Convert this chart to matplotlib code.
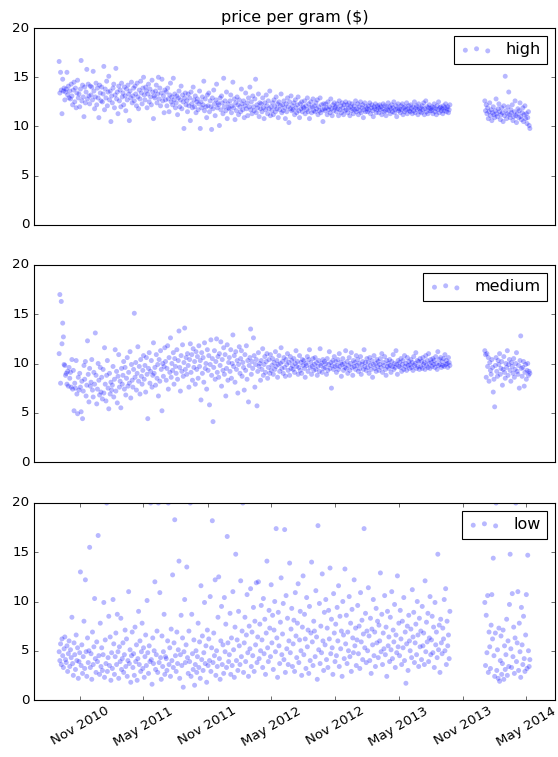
import numpy as np
import pandas as pd
import matplotlib
matplotlib.use('Agg')
import matplotlib.pyplot as plt
import matplotlib.dates as mdates

plt.style.use('classic')


def vals(s):
    return np.array(s.split(), dtype=float)


# price per gram, sampled every ~2 days, Sep 2010 - Sep 2013 (one row per month)
high_a = vals("""
16.6 13.4 15.5 13.7 11.3 14.8 13.6 13.9 12.7 13.5 13.8 15.5 13.2 14.1 12.9
13.6 12.8 14.3 13.1 12.2 13.7 14.5 12.5 13.9 11.9 13.4 14.7 12.9 13.3 12.0
13.8 16.7 12.6 14.2 13.0 11.0 14.0 12.4 13.5 15.8 12.8 14.3 13.1 12.3 14.1
13.2 14.0 12.7 15.6 13.6 11.8 13.0 14.4 12.2 13.9 12.9 10.9 14.2 13.4 12.6
14.0 12.5 13.3 16.1 11.7 13.8 12.9 14.6 12.1 13.5 15.1 12.7 13.6 10.5 13.1
12.4 13.9 14.3 11.9 13.2 15.9 12.8 13.5 11.3 14.1 12.6 13.7 12.0 14.4 13.0
13.4 12.2 14.0 13.1 11.6 13.8 12.7 14.2 13.3 10.6 13.6 12.9 14.5 12.4 13.1
13.9 12.6 14.1 13.3 12.1 14.4 13.0 11.8 13.7 12.8 14.6 13.4 12.3 13.9 15.0
13.2 12.7 14.0 13.6 11.9 13.3 14.3 12.5 13.8 13.0 12.2 14.7 13.5 10.8 13.1
12.9 13.6 14.2 12.4 13.3 15.0 12.8 13.9 12.1 13.4 14.8 12.6 13.1 11.4 13.7
12.7 13.5 12.1 13.9 12.8 11.5 13.2 14.4 12.5 13.0 12.2 14.9 12.7 13.3 11.9
12.4 13.1 11.2 12.9 13.6 12.0 12.7 14.1 11.8 13.2 12.5 9.8 12.9 13.4 12.2
12.6 11.5 13.3 12.1 12.9 10.6 13.5 12.3 11.9 14.0 12.7 12.0 13.1 11.4 12.5
12.8 11.7 12.3 13.6 9.8 12.5 11.9 13.0 12.2 14.6 11.6 12.8 12.0 10.9 13.2
12.1 13.4 11.5 12.6 12.0 9.7 12.9 11.8 13.7 12.3 11.1 12.7 14.3 11.9 12.4
12.2 10.1 12.9 11.7 13.1 12.4 11.3 14.9 12.0 12.6 11.6 13.5 10.8 12.3 11.9
11.8 12.6 13.2 11.4 12.1 14.5 11.9 12.8 10.7 12.4 11.6 13.0 12.2 11.2 12.7
12.0 11.5 13.8 12.3 11.7 12.6 10.9 12.1 13.4 11.8 12.4 11.1 12.9 12.0 14.0
11.7 12.5 11.3 13.1 12.0 11.6 12.8 14.8 11.4 12.2 11.9 13.3 11.0 12.4 11.8
12.3 11.5 12.9 11.9 10.8 12.4 11.7 13.2 12.1 11.3 12.6 11.8 13.6 11.1 12.0
11.6 12.4 11.2 12.7 12.0 11.5 13.0 11.8 12.3 10.9 12.5 11.7 12.1 13.3 11.4
12.2 11.6 12.6 11.9 10.8 12.3 11.5 12.9 12.0 10.4 12.5 11.8 13.1 11.6 12.1
11.7 12.4 11.2 12.7 11.9 11.4 12.2 13.0 11.6 10.9 12.3 11.8 12.5 11.5 12.0
11.9 12.6 11.3 12.1 11.7 12.9 11.5 12.3 10.8 11.9 12.5 11.4 12.0 12.8 11.6
12.1 11.5 12.4 11.8 12.7 11.2 12.0 11.6 12.9 11.4 12.2 11.7 10.5 12.3 11.8
11.6 12.3 11.9 11.2 12.5 11.7 12.0 11.4 12.8 11.8 11.1 12.2 11.6 12.4 11.9
12.0 11.5 12.3 11.8 11.1 12.6 11.7 12.1 11.4 12.4 11.9 11.2 12.2 11.6 12.5
11.7 12.2 11.4 11.9 12.4 11.1 12.0 11.6 12.3 11.8 11.3 12.1 11.7 12.6 11.5
11.8 12.3 11.2 12.0 11.6 12.5 11.4 11.9 12.2 10.9 11.7 12.4 11.5 12.0 11.8
11.5 12.1 11.7 12.4 11.3 11.9 12.2 11.6 11.0 12.0 11.8 12.3 11.4 11.7 12.1
11.9 11.4 12.2 11.7 12.0 11.2 11.8 12.3 11.5 12.1 11.6 11.1 12.0 11.7 12.4
11.6 12.0 11.3 11.8 12.2 11.5 11.9 12.5 11.4 11.7 12.1 11.0 11.8 12.3 11.6
11.8 11.4 12.1 11.7 12.3 11.2 11.9 11.5 12.0 11.7 12.4 11.3 11.8 12.1 11.6
11.5 12.2 11.8 11.3 12.0 11.6 12.5 11.4 11.9 12.1 11.7 11.2 12.3 11.8 11.5
11.9 11.4 12.1 11.7 12.4 11.2 11.8 12.6 11.5 12.0 11.3 11.9 12.2 11.6 11.8
11.6 12.0 11.3 11.9 12.3 11.5 11.8 11.2 12.1 11.7 12.5 11.4 11.9 12.0 11.6
11.8 11.3 12.1 11.6 11.9 12.3 11.5 11.8 12.0 11.4 11.7 12.2
""")
# Jan 2014 - May 2014
high_b = vals("""
12.6 11.6 12.2 11.3 11.9 10.8 11.5 12.4 11.1 11.7 10.6 11.4 12.0 11.2 10.9
11.6 12.8 11.3 11.0 11.8 12.3 11.5 10.7 11.2 11.9 11.4 10.5 12.1 11.1 15.1
11.6 10.8 11.3 12.0 13.5 11.2 10.9 11.7 11.4 12.2 10.6 11.0 11.5 12.6 11.1
10.4 11.3 11.8 10.9 11.6 12.4 11.0 10.7 11.4 11.9 10.5 11.2 12.1 10.8 11.3
10.3 10.9 11.5 10.1 9.8
""")

medium_a = vals("""
11.0 17.0 8.0 16.3 12.0 14.1 12.7 9.9 9.8 8.8 9.0 7.9 9.2 7.7 9.6
8.5 9.1 7.6 10.4 7.4 9.3 5.2 8.0 7.5 10.3 6.9 4.9 8.6 7.3 9.0
7.6 5.1 8.2 4.4 7.2 9.8 8.4 10.2 6.7 7.8 12.3 8.9 6.1 9.5 7.7
8.1 10.4 7.3 6.6 9.1 7.9 13.1 8.8 5.9 7.4 10.0 8.3 6.8 9.6 7.1
8.6 6.4 9.4 7.0 11.6 7.9 6.2 8.8 10.3 7.5 5.4 9.0 6.9 8.1 7.3
7.8 9.7 6.6 8.4 11.4 7.2 9.2 6.0 8.7 10.9 7.6 8.2 5.5 9.5 7.9
8.8 10.2 7.4 9.6 6.8 8.5 10.6 7.7 9.1 8.0 11.2 6.5 9.9 8.3 7.6
9.4 15.1 8.6 10.1 7.3 9.0 11.7 8.2 9.7 6.9 10.4 8.7 7.9 9.3 10.8
8.4 9.8 7.1 10.6 8.9 4.4 9.5 11.1 8.0 9.2 10.3 7.6 8.8 12.1 9.0
9.6 7.8 10.9 8.5 9.9 6.7 10.4 8.2 11.3 9.4 5.2 10.0 8.7 9.7 11.6
10.2 8.3 9.5 11.8 7.4 10.6 9.1 12.6 8.6 10.0 9.3 11.1 7.9 10.5 9.7
9.0 11.4 8.4 10.3 13.3 9.6 7.2 10.8 9.2 11.9 8.7 10.1 13.6 9.4 10.6
8.9 11.0 9.8 7.6 10.4 12.0 9.1 10.9 8.3 11.5 9.6 10.2 7.9 11.2 9.4
10.7 8.5 11.8 9.7 10.3 6.3 11.1 9.0 10.6 8.1 12.1 9.5 10.0 7.4 11.4
9.3 10.8 5.8 9.9 12.4 8.8 10.5 4.1 9.6 11.3 8.4 10.2 12.5 9.1 10.7
8.6 11.0 9.8 12.2 7.7 10.4 9.3 11.6 8.9 10.9 6.7 9.5 11.9 8.3 10.1
10.6 9.2 11.4 8.5 10.0 12.9 9.7 10.8 8.1 11.2 9.4 10.3 7.0 9.9 11.7
9.0 10.5 11.3 8.7 10.1 9.6 7.3 10.9 9.3 11.8 8.4 10.3 6.1 9.8 10.6
13.5 8.9 10.2 9.5 12.6 10.8 7.6 9.9 10.4 5.7 9.2 11.1 9.7 10.0 8.3
10.3 9.4 11.5 8.8 9.9 10.7 9.1 10.2 11.0 8.5 9.6 10.4 9.0 10.9 9.3
9.8 10.5 8.9 10.1 9.4 11.2 9.7 10.3 8.6 9.9 10.8 9.2 10.0 11.6 9.5
10.2 9.0 10.6 9.6 8.7 10.4 9.9 11.0 9.3 10.1 8.8 10.7 9.5 10.3 9.8
9.4 10.5 9.1 10.0 11.3 9.7 10.2 8.9 9.6 10.8 9.3 10.1 9.0 10.4 9.8
10.3 9.5 8.6 10.0 9.8 10.7 9.2 10.4 11.4 9.6 10.1 8.9 9.7 10.5 9.3
9.9 10.6 9.4 10.1 8.8 9.7 10.3 9.2 11.5 9.8 10.0 9.1 10.4 9.5 10.2
9.6 10.0 8.9 10.5 9.3 9.9 11.2 9.5 10.1 7.5 9.8 10.3 9.4 10.7 9.7
10.2 9.1 9.8 10.4 9.4 11.0 9.7 10.1 8.7 9.9 10.5 9.3 10.0 9.6 11.3
9.5 10.2 9.0 9.8 10.6 9.3 10.0 11.1 9.6 8.8 10.3 9.7 10.1 9.4 10.8
9.8 10.4 9.2 10.0 9.5 10.7 8.9 9.9 10.2 9.4 11.4 9.7 10.1 9.3 10.5
9.6 10.1 9.0 10.6 9.8 9.4 10.3 8.6 9.9 10.8 9.5 10.0 9.2 10.4 9.7
10.2 9.3 9.9 10.5 9.6 11.0 9.1 10.1 9.8 10.7 9.4 8.8 10.3 9.7 10.0
9.5 10.4 9.8 9.1 10.2 9.7 10.9 9.4 10.0 9.6 11.3 9.9 8.9 10.3 9.7
10.1 9.6 10.5 9.2 9.9 10.3 9.4 10.8 9.7 10.0 9.3 10.6 9.8 10.2 9.5
9.9 10.4 9.6 10.1 9.3 10.7 9.8 10.0 11.1 9.5 10.3 9.7 10.2 9.4 10.5
9.7 10.2 9.5 10.6 9.9 10.1 9.4 10.8 9.8 10.3 9.6 11.0 10.0 9.5 10.4
10.1 9.7 10.5 9.9 10.3 9.6 10.7 10.0 9.4 11.2 9.8 10.4 9.9 10.6 9.6
10.2 9.8 10.5 9.7 10.9 9.9 10.3 10.0 9.6 10.6 10.1 9.8
""")
medium_b = vals("""
11.3 10.9 8.6 11.0 9.7 10.6 8.2 10.1 9.3 8.9 10.4 9.6 7.1 8.4 5.6
9.8 10.6 9.2 8.7 10.3 9.9 11.0 8.9 9.5 10.2 7.8 9.4 10.7 9.1 8.5
10.0 9.6 11.3 8.8 9.9 10.4 9.3 8.2 10.1 9.7 9.0 10.5 8.6 9.4 10.0
11.1 9.2 8.9 9.8 7.5 10.3 12.8 9.5 8.7 9.6 10.2 7.7 9.1 9.9 8.4
9.3 10.0 8.8 9.2 9.0
""")

low_a = vals("""
4.9 4.0 5.7 3.6 6.2 4.5 3.3 5.2 6.4 4.1 3.8 5.5 2.9 4.7 6.0
3.4 5.1 4.3 8.4 3.7 2.5 5.8 4.6 3.1 6.6 4.0 5.3 2.2 3.9 4.8
13.0 3.5 5.6 2.7 4.4 8.0 3.2 12.2 4.9 2.4 6.3 3.8 5.0 15.5 3.3
4.7 2.1 6.9 3.6 5.4 10.3 4.2 2.8 5.9 3.9 16.7 4.5 2.6 7.8 3.4
5.3 3.0 4.6 9.9 2.3 6.1 3.7 20.0 2.9 4.3 8.5 3.5 6.4 2.0 4.8
3.2 10.2 5.7 2.6 4.4 6.8 3.6 8.7 4.9 2.2 5.4 3.9 8.3 3.1 4.2
5.8 2.8 4.6 7.1 3.4 6.2 2.4 4.0 11.0 3.7 5.1 1.8 4.5 6.9 3.3
4.7 2.5 7.4 3.9 5.6 2.0 4.2 9.0 3.6 6.0 2.9 4.9 7.8 3.2 5.3
2.3 4.4 6.6 3.5 10.1 4.8 2.7 5.5 3.9 20.0 4.1 1.6 6.3 3.7 5.0
12.0 3.1 4.6 7.0 2.8 20.0 3.8 10.9 4.3 2.1 6.5 3.4 4.9 8.7 2.6
4.4 4.2 3.0 6.0 20.0 3.6 5.3 2.4 7.2 4.0 12.7 3.3 5.8 18.3 4.5
2.9 6.9 3.7 5.1 14.1 2.2 4.6 8.6 3.5 6.3 1.3 4.9 10.2 3.8 5.6
13.5 4.3 2.7 7.0 3.9 20.0 2.4 8.7 4.7 3.1 6.1 1.5 3.6 5.0 2.8
4.4 7.8 3.3 5.9 2.2 11.6 4.1 6.5 3.0 4.8 9.9 3.7 5.5 1.8 7.1
3.5 6.2 4.0 10.5 2.9 5.3 18.2 3.8 6.8 4.5 12.2 2.5 5.0 3.4 8.4
12.5 4.2 2.1 6.0 9.5 3.6 5.6 2.7 10.4 4.9 7.7 3.3 16.6 5.8 3.9
4.6 8.8 2.6 6.3 3.5 11.0 5.1 2.3 7.4 14.8 4.0 6.1 3.0 9.0 5.5
3.6 12.1 4.4 7.0 20.0 2.8 5.8 8.4 3.9 6.6 10.7 4.8 2.4 7.5 5.2
11.3 3.4 6.9 4.5 9.4 2.9 8.0 5.6 11.9 3.8 6.4 12.0 4.2 7.7 5.0
9.6 6.1 3.3 10.3 4.7 8.2 2.6 6.8 14.1 5.3 3.9 9.1 7.3 4.4 11.7
5.8 8.6 3.1 7.1 10.0 4.9 17.4 6.3 2.3 8.9 5.5 3.7 7.9 12.4 4.6
6.7 9.8 4.1 17.3 2.8 10.6 5.2 8.3 3.6 6.0 13.9 4.8 7.2 9.3 3.4
5.7 8.1 2.9 10.9 6.5 4.3 7.8 11.8 3.8 6.1 9.0 5.0 2.5 7.4 12.6
4.6 8.7 6.2 3.2 10.4 5.4 7.1 2.7 9.5 4.0 6.8 14.0 5.9 3.5 8.0
7.0 4.4 11.1 6.4 2.1 17.7 5.1 9.8 3.7 7.5 4.8 12.8 6.0 3.0 8.9
5.6 10.2 4.1 7.3 3.3 9.1 6.2 13.4 4.7 8.2 5.3 2.6 10.8 6.8 3.9
7.7 4.5 9.4 6.0 11.6 3.4 8.5 5.2 7.0 2.4 10.0 6.6 4.2 13.3 5.7
8.6 3.7 6.9 5.0 10.5 4.4 7.8 2.9 9.2 6.3 4.8 12.2 5.5 7.3 3.5
6.1 9.6 4.7 7.5 3.2 10.9 5.9 8.1 4.1 6.7 17.4 5.3 8.8 3.8 7.0
5.0 11.4 6.5 4.0 8.3 2.7 7.2 5.6 10.2 4.5 6.9 3.4 9.3 5.8 8.0
4.3 7.6 6.0 12.9 4.9 8.7 3.6 6.8 5.2 10.6 4.6 7.4 2.4 9.0 5.5
6.4 3.9 8.4 5.1 11.0 4.2 7.1 5.9 9.7 3.3 6.6 4.8 12.6 5.4 7.8
4.5 9.1 6.2 3.6 8.0 5.3 10.4 4.0 6.9 1.7 5.7 7.5 3.0 8.6 6.0
5.0 7.2 4.3 11.2 6.4 8.9 3.8 5.8 7.7 4.6 10.0 6.6 3.4 8.3 5.4
7.0 4.1 9.5 5.5 6.8 3.6 12.1 4.9 7.9 5.9 8.8 3.9 6.3 10.5 4.6
6.1 8.5 4.8 7.4 3.3 9.9 5.6 6.9 4.3 14.8 5.1 7.6 2.8 8.2 5.8
4.7 7.3 6.2 10.2 5.0 11.3 3.6 8.0 5.5 6.6 4.2 9.0
""")
low_b = vals("""
9.9 3.5 8.6 4.8 10.6 2.8 6.9 5.4 3.2 7.6 10.7 6.2 14.4 4.5 2.4
6.8 20.0 3.0 5.1 2.2 7.3 1.9 4.0 6.5 2.6 3.7 7.1 2.1 5.5 3.1
4.6 8.2 2.5 6.0 3.4 9.7 14.8 5.2 3.3 10.8 4.4 7.4 2.7 6.3 20.0
3.9 5.8 11.0 3.0 7.8 4.9 2.3 9.4 5.6 3.6 8.5 4.2 2.9 6.6 10.7
3.2 14.7 5.0 3.4 4.1
""")

names = ['high', 'medium', 'low']
series_a = [high_a, medium_a, low_a]
series_b = [high_b, medium_b, low_b]

fig = plt.figure(figsize=(558 / 80, 757 / 80), dpi=80)
fig.patch.set_facecolor('white')

tops = [28, 265, 503]
axes = []
for i in range(3):
    ax = fig.add_axes([34 / 558, 1 - (tops[i] + 197) / 757, 521 / 558, 197 / 757])
    da = pd.date_range('2010-09-02', '2013-09-25', periods=len(series_a[i]))
    db = pd.date_range('2014-01-03', '2014-05-12', periods=len(series_b[i]))
    x = np.concatenate([da.to_pydatetime(), db.to_pydatetime()])
    y = np.concatenate([series_a[i], series_b[i]])
    ax.scatter(x, y, s=20, c='b', alpha=0.28, edgecolors='none', label=names[i])
    ax.set_ylim(0, 20)
    ax.set_yticks([0, 5, 10, 15, 20])
    ax.set_xlim(pd.Timestamp('2010-06-22'), pd.Timestamp('2014-07-23'))
    ax.legend(loc='upper right', scatterpoints=3, fancybox=False)
    axes.append(ax)

axes[0].set_title('price per gram ($)', fontsize=14.4)
axes[0].set_xticks([])
axes[1].set_xticks([])

axes[2].xaxis.set_major_locator(mdates.MonthLocator(bymonth=[5, 11]))
axes[2].xaxis.set_major_formatter(mdates.DateFormatter('%b %Y'))
plt.setp(axes[2].get_xticklabels(), rotation=30)

fig.savefig('out.png', dpi=80, facecolor='white')
